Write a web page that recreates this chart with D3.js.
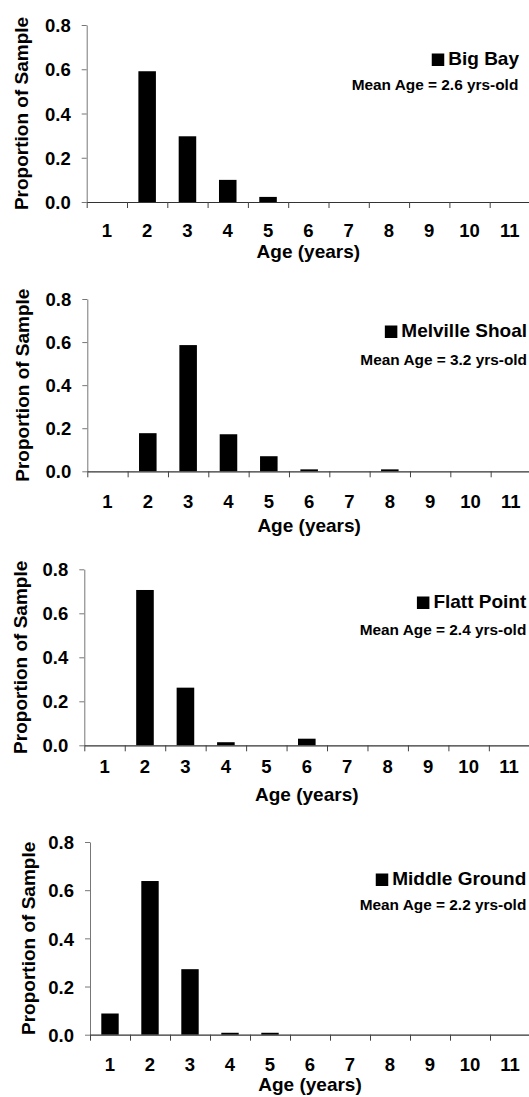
<!DOCTYPE html>
<html>
<head>
<meta charset="utf-8">
<script src="https://cdn.jsdelivr.net/npm/d3@7"></script>
<style>
  html, body { margin: 0; padding: 0; background: #fff; }
  svg { display: block; }
  text { font-family: "Liberation Sans", Arial, sans-serif; font-weight: bold; fill: #000; }
</style>
</head>
<body>
<script>
// ---------- data ----------
const ages = ["1", "2", "3", "4", "5", "6", "7", "8", "9", "10", "11"];
const sites = ["Big Bay", "Melville Shoal", "Flatt Point", "Middle Ground"];
const meanAgeLabels = [
  "Mean Age = 2.6 yrs-old",
  "Mean Age = 3.2 yrs-old",
  "Mean Age = 2.4 yrs-old",
  "Mean Age = 2.2 yrs-old"
];
const bigBay        = [0,     0.591, 0.297, 0.100, 0.023, 0,     0, 0,     0, 0, 0];
const melvilleShoal = [0,     0.177, 0.586, 0.172, 0.070, 0.009, 0, 0.009, 0, 0, 0];
const flattPoint    = [0,     0.706, 0.262, 0.014, 0,     0.030, 0, 0,     0, 0, 0];
const middleGround  = [0.088, 0.638, 0.272, 0.008, 0.008, 0,     0, 0,     0, 0, 0];
const seriesValues = [bigBay, melvilleShoal, flattPoint, middleGround];
const yTickValues = [0, 0.2, 0.4, 0.6, 0.8];
const yDomain = [0, 0.8];
const xTitle = "Age (years)";
const yTitle = "Proportion of Sample";

// ---------- layout (positions only) ----------
const layout = [
  { x0: 86.7, x1: 530,   yTop: 25,    yBot: 202,    tickY: 237.3,  titleY: 258,    yTitleX: 28.3, legRight: 519,   legY: 65,  meanRight: 518.3, meanY: 90 },
  { x0: 87.3, x1: 531,   yTop: 299,   yBot: 471.3,  tickY: 507.7,  titleY: 531.7,  yTitleX: 29,   legRight: 527,   legY: 337, meanRight: 527,   meanY: 364.5 },
  { x0: 84.3, x1: 529.3, yTop: 569.3, yBot: 745.3,  tickY: 773.3,  titleY: 801,    yTitleX: 27,   legRight: 526.3, legY: 608, meanRight: 526.3, meanY: 634.5 },
  { x0: 90,   x1: 530,   yTop: 842,   yBot: 1034.7, tickY: 1071,   titleY: 1090.6, yTitleX: 35,   legRight: 526.3, legY: 885, meanRight: 526.3, meanY: 909.5 }
];

const W = 529, H = 1097;
const svg = d3.select("body").append("svg").attr("width", W).attr("height", H);

sites.forEach((site, i) => {
  const L = layout[i];
  const vals = seriesValues[i];
  const g = svg.append("g");

  const pin = 0.565;
  const x = d3.scaleBand().domain(ages).range([L.x0, L.x1]).paddingInner(pin).paddingOuter(pin / 2);
  const xb = d3.scaleLinear().domain([0, ages.length]).range([L.x0, L.x1]);
  const y = d3.scaleLinear().domain(yDomain).range([L.yBot, L.yTop]);

  // bars
  g.selectAll("rect.bar").data(vals).join("rect")
    .attr("class", "bar")
    .attr("x", (d, j) => x(ages[j]))
    .attr("width", x.bandwidth())
    .attr("y", d => y(d))
    .attr("height", d => y(0) - y(d))
    .attr("fill", "#000");

  // y axis
  const ya = g.append("g").attr("transform", `translate(${L.x0},0)`)
    .call(d3.axisLeft(y).tickValues(yTickValues).tickFormat(d3.format(".1f"))
      .tickSize(5).tickSizeOuter(0).tickPadding(11));
  ya.select(".domain").attr("stroke", "#777").attr("stroke-width", 1);
  ya.selectAll(".tick line").attr("stroke", "#777");
  ya.selectAll(".tick text").attr("font-size", 18.5).attr("dy", "0.36em")
    .style("font-family", "'Liberation Sans', Arial, sans-serif").style("font-weight", "bold");

  // x axis boundaries (line + ticks)
  const xa = g.append("g").attr("transform", `translate(0,${L.yBot})`)
    .call(d3.axisBottom(xb).tickValues(d3.range(0, ages.length + 1)).tickFormat("")
      .tickSize(6).tickSizeOuter(0));
  xa.select(".domain").attr("stroke", "#333").attr("stroke-width", 1.2);
  xa.selectAll(".tick line").attr("stroke", "#444");

  // x axis labels
  const xl = g.append("g").attr("transform", `translate(0,${L.tickY})`)
    .call(d3.axisBottom(x).tickSize(0).tickPadding(0));
  xl.select(".domain").remove();
  xl.selectAll(".tick text").attr("font-size", 18.5).attr("dy", 0).attr("y", 0)
    .style("font-family", "'Liberation Sans', Arial, sans-serif").style("font-weight", "bold");

  // x title
  g.append("text")
    .attr("x", (L.x0 + L.x1) / 2).attr("y", L.titleY)
    .attr("text-anchor", "middle").attr("font-size", 19)
    .text(xTitle);

  // y title
  g.append("text")
    .attr("transform", `translate(${L.yTitleX},${(L.yTop + L.yBot) / 2}) rotate(-90)`)
    .attr("text-anchor", "middle").attr("font-size", 19)
    .text(yTitle);

  // legend
  const lt = g.append("text")
    .attr("x", L.legRight).attr("y", L.legY)
    .attr("text-anchor", "end").attr("font-size", 19)
    .text(site);
  const tw = lt.node().getComputedTextLength();
  const sq = 12.5;
  g.append("rect")
    .attr("x", L.legRight - tw - 4 - sq).attr("y", L.legY - 11.5)
    .attr("width", sq).attr("height", sq).attr("fill", "#000");

  g.append("text")
    .attr("x", L.meanRight).attr("y", L.meanY)
    .attr("text-anchor", "end").attr("font-size", 15.4)
    .text(meanAgeLabels[i]);
});
</script>
</body>
</html>
